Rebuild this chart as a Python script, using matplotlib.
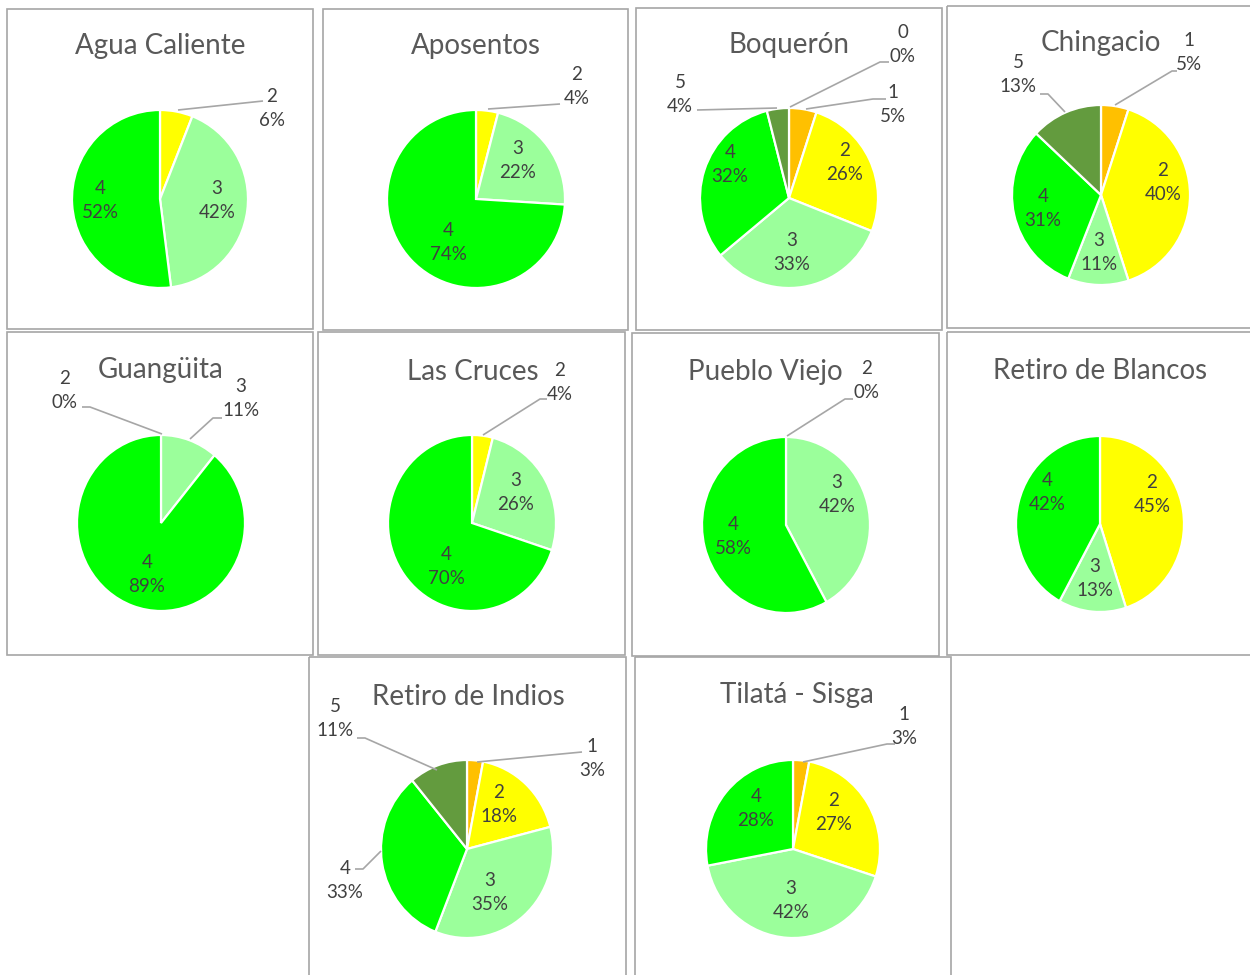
import matplotlib.pyplot as plt
from matplotlib.patches import Rectangle

W, H = 1250, 975

titles = ["Agua Caliente", "Aposentos", "Boquerón", "Chingacio", "Guangüita",
          "Las Cruces", "Pueblo Viejo", "Retiro de Blancos", "Retiro de Indios",
          "Tilatá - Sisga"]

# categoria y porcentaje de cada vereda
agua_cat, agua_pct = [2, 3, 4], [6, 42, 52]
aposentos_cat, aposentos_pct = [2, 3, 4], [4, 22, 74]
boqueron_cat, boqueron_pct = [0, 1, 2, 3, 4, 5], [0, 5, 26, 33, 32, 4]
chingacio_cat, chingacio_pct = [1, 2, 3, 4, 5], [5, 40, 11, 31, 13]
guanguita_cat, guanguita_pct = [2, 3, 4], [0, 11, 89]
cruces_cat, cruces_pct = [2, 3, 4], [4, 26, 70]
pueblo_cat, pueblo_pct = [2, 3, 4], [0, 42, 58]
blancos_cat, blancos_pct = [2, 3, 4], [45, 13, 42]
indios_cat, indios_pct = [1, 2, 3, 4, 5], [3, 18, 35, 33, 11]
tilata_cat, tilata_pct = [1, 2, 3, 4], [3, 27, 42, 28]

cats = [agua_cat, aposentos_cat, boqueron_cat, chingacio_cat, guanguita_cat,
        cruces_cat, pueblo_cat, blancos_cat, indios_cat, tilata_cat]
pcts = [agua_pct, aposentos_pct, boqueron_pct, chingacio_pct, guanguita_pct,
        cruces_pct, pueblo_pct, blancos_pct, indios_pct, tilata_pct]

colors = {0: '#C00000', 1: '#FFC000', 2: '#FFFF00', 3: '#9BFF9B',
          4: '#00FF00', 5: '#639B3E'}

# layout in pixels: panel boxes, pie centre/radii, titles, labels, leaders
boxes = [(7, 9, 313, 329), (323, 9, 628, 330), (636, 8, 942, 330), (947, 6, 1252, 328),
         (7, 332, 313, 655), (318, 332, 625, 655), (632, 333, 939, 656), (947, 332, 1252, 655),
         (309, 657, 626, 990), (635, 657, 951, 990)]
pies = [(160, 199, 88, 89), (476, 199, 89, 89), (789, 198, 89, 90), (1101, 195, 89, 90),
        (161, 523, 84, 88), (472, 523, 84, 88), (786, 525, 84, 88), (1100, 524, 84, 88),
        (467, 849, 86, 89), (793, 849, 87, 89)]
title_pos = [(160, 46), (476, 46), (789, 45), (1101, 43), (161, 370),
             (473, 372), (765, 372), (1100, 371), (468, 697), (797, 695)]
label_pos = [
    [(272, 109), (217, 200), (100, 201)],
    [(577, 86), (518, 160), (448, 243)],
    [(903, 44), (893, 105), (845, 163), (792, 253), (730, 165), (680, 94)],
    [(1189, 53), (1163, 183), (1099, 252), (1043, 208), (1018, 75)],
    [(65, 390), (241, 398), (147, 574)],
    [(560, 382), (516, 492), (446, 566)],
    [(867, 380), (837, 494), (733, 536)],
    [(1152, 494), (1095, 578), (1047, 493)],
    [(592, 758), (499, 804), (490, 893), (345, 881), (335, 718)],
    [(904, 727), (834, 812), (791, 900), (756, 808)],
]
leaders = [
    [[(178, 110), (263, 101)]],
    [[(488, 109), (560, 104)]],
    [[(790, 107), (880, 62), (889, 62)], [(806, 109), (873, 99), (886, 99)],
     [(697, 110), (777, 108)]],
    [[(1115, 105), (1172, 71), (1177, 71)], [(1040, 94), (1048, 94), (1065, 112)]],
    [[(82, 407), (90, 407), (162, 434)], [(190, 439), (213, 418), (222, 418)]],
    [[(483, 435), (540, 399), (547, 399)]],
    [[(787, 436), (845, 399), (853, 399)]],
    [],
    [[(357, 738), (365, 738), (437, 770)], [(477, 762), (582, 752)],
     [(355, 869), (363, 869), (381, 851)]],
    [[(803, 762), (887, 744), (895, 744)]],
]

plt.rcParams['font.family'] = ['Lato', 'DejaVu Sans']
fig = plt.figure(figsize=(W / 100, H / 100), dpi=100)

for (cx, cy, rx, ry), cat, pct in zip(pies, cats, pcts):
    pax = fig.add_axes([(cx - rx) / W, (H - cy - ry) / H, 2 * rx / W, 2 * ry / H])
    pax.pie(pct, colors=[colors[c] for c in cat], startangle=90, counterclock=False,
            radius=1, wedgeprops=dict(edgecolor='white', linewidth=1.6))
    pax.set_aspect('auto')
    pax.set_xlim(-1.0, 1.0)
    pax.set_ylim(-1.0, 1.0)

ax = fig.add_axes([0, 0, 1, 1])
ax.set_xlim(0, W)
ax.set_ylim(H, 0)
ax.set_axis_off()

for i, title in enumerate(titles):
    x0, y0, x1, y1 = boxes[i]
    ax.add_patch(Rectangle((x0, y0), x1 - x0, y1 - y0, fill=False,
                           edgecolor='#A6A6A6', linewidth=1.2))
    ax.text(*title_pos[i], title, ha='center', va='center', fontsize=20,
            color='#595959')
    for line in leaders[i]:
        xs, ys = zip(*line)
        ax.plot(xs, ys, color='#A6A6A6', linewidth=1.2, solid_capstyle='butt')
    for (lx, ly), c, p in zip(label_pos[i], cats[i], pcts[i]):
        ax.text(lx, ly, f"{c}\n{p}%", ha='center', va='center', fontsize=13.5,
                color='#404040', linespacing=1.5)

fig.savefig('out.png', dpi=100, facecolor='white')
